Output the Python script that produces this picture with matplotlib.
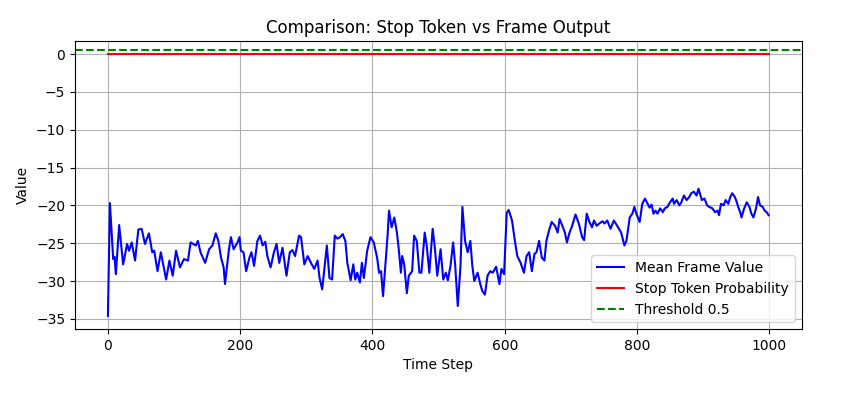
"""Comparison of the stop-token probability against the mean frame value per decoder step."""

import matplotlib
matplotlib.use("Agg")
import matplotlib.pyplot as plt
import numpy as np

N_STEPS = 1000
THRESHOLD = 0.5

# Mean frame value at these time steps.
frame_steps = [
    0, 3, 8, 10, 12, 17, 23, 29, 32, 36, 41, 46, 51, 56, 62, 67, 70, 75, 80, 88,
    93, 98, 103, 109, 115, 121, 125, 133, 136, 140, 147, 153, 158, 163, 167, 171,
    175, 177, 183, 186, 190, 196, 199, 201, 205, 209, 214, 217, 221, 226, 230,
    234, 238, 241, 246, 251, 255, 259, 264, 270, 275, 279, 283, 289, 292, 297,
    302, 307, 312, 317, 320, 324, 331, 335, 339, 343, 347, 351, 355, 359, 362,
    367, 371, 374, 377, 381, 384, 387, 392, 397, 402, 407, 410, 413, 416, 420,
    423, 425, 429, 433, 437, 440, 443, 445, 448, 452, 455, 460, 463, 467, 471,
    474, 479, 482, 486, 491, 494, 498, 503, 507, 511, 514, 518, 522, 525, 529,
    533, 536, 540, 544, 548, 551, 554, 559, 563, 566, 570, 574, 578, 582, 587,
    592, 595, 599, 603, 606, 611, 616, 619, 624, 629, 633, 637, 641, 645, 648,
    652, 656, 660, 663, 667, 671, 676, 680, 683, 688, 691, 694, 698, 702, 707,
    712, 717, 720, 724, 728, 732, 735, 739, 743, 748, 751, 755, 760, 765, 770,
    776, 781, 784, 789, 793, 796, 799, 804, 808, 812, 816, 819, 822, 825, 828,
    831, 835, 839, 842, 846, 850, 854, 856, 860, 864, 867, 871, 875, 879, 882,
    886, 890, 893, 895, 898, 902, 906, 909, 914, 918, 922, 924, 927, 931, 934,
    938, 941, 944, 948, 951, 953, 956, 958, 962, 966, 970, 973, 976, 980, 983,
    986, 990, 993, 996, 999,
]
frame_values = [
    -34.6, -19.7, -27.1, -26.8, -29.1, -22.6, -27.8, -25.1, -26.0, -24.9, -27.3,
    -23.2, -23.1, -25.1, -23.7, -26.2, -26.0, -28.7, -26.2, -29.8, -27.3, -29.3,
    -26.0, -28.2, -27.1, -27.3, -24.9, -25.3, -24.7, -26.2, -27.6, -25.8, -25.3,
    -23.7, -24.7, -26.9, -28.2, -30.4, -25.8, -24.2, -25.8, -24.9, -24.2, -26.0,
    -26.2, -28.7, -26.9, -26.2, -28.0, -24.7, -24.0, -25.3, -24.8, -26.7, -28.2,
    -26.2, -25.1, -27.6, -25.6, -29.3, -26.2, -25.9, -26.7, -24.0, -24.2, -27.8,
    -26.7, -27.6, -28.4, -27.3, -29.6, -31.1, -25.3, -29.6, -29.8, -24.0, -24.4,
    -24.2, -23.8, -24.7, -27.6, -29.9, -27.8, -29.8, -28.9, -30.2, -27.6, -29.6,
    -26.0, -24.2, -24.9, -26.9, -28.9, -28.7, -32.0, -27.3, -23.8, -20.7, -22.9,
    -21.6, -23.6, -26.0, -28.9, -26.7, -27.8, -31.6, -29.3, -28.7, -24.0, -24.7,
    -28.9, -28.9, -23.6, -25.3, -28.9, -23.1, -25.3, -29.3, -25.8, -29.8, -28.9,
    -29.9, -28.0, -24.9, -27.8, -33.3, -28.2, -20.2, -24.7, -26.2, -24.7, -28.0,
    -30.0, -28.9, -30.4, -31.3, -31.8, -29.3, -28.7, -28.9, -28.1, -30.4, -28.4,
    -29.1, -21.0, -20.6, -22.0, -25.1, -26.7, -27.6, -28.9, -26.7, -26.2, -28.7,
    -26.4, -26.2, -24.7, -26.9, -27.3, -24.7, -23.3, -22.2, -22.7, -23.6, -21.8,
    -22.9, -23.6, -24.9, -23.6, -22.7, -21.2, -22.4, -24.2, -24.6, -21.1, -22.2,
    -22.9, -22.0, -22.7, -22.4, -22.1, -22.4, -22.0, -23.1, -22.0, -22.7, -23.6,
    -25.3, -24.7, -21.6, -21.1, -20.2, -21.1, -22.2, -19.8, -19.1, -19.8, -20.3,
    -19.9, -21.1, -20.7, -21.1, -20.4, -20.9, -20.4, -20.2, -19.6, -19.1, -19.8,
    -19.3, -20.0, -19.6, -18.7, -19.3, -18.9, -18.4, -18.2, -18.7, -17.8, -18.4,
    -19.3, -19.1, -20.0, -20.2, -20.4, -20.9, -20.7, -21.3, -19.8, -20.0, -19.3,
    -19.8, -18.9, -18.4, -18.9, -19.6, -20.2, -20.9, -21.6, -20.4, -19.6, -20.2,
    -21.1, -21.6, -20.4, -18.9, -20.0, -20.2, -20.7, -20.9, -21.3,
]

# Stop token probability stays at zero for the whole run.
stop_steps = list(range(N_STEPS))
stop_probs = [0.0] * N_STEPS


def main():
    fig, ax = plt.subplots(figsize=(8.51, 3.98), dpi=100)
    fig.subplots_adjust(left=0.088, right=0.942, top=0.897, bottom=0.173)

    ax.plot(frame_steps, frame_values, color="blue", label="Mean Frame Value")
    ax.plot(stop_steps, stop_probs, color="red", label="Stop Token Probability")
    ax.axhline(THRESHOLD, color="green", linestyle="--", label="Threshold 0.5")

    ax.set_ylim(-36.36, 1.72)
    ax.set_title("Comparison: Stop Token vs Frame Output")
    ax.set_xlabel("Time Step")
    ax.set_ylabel("Value")
    ax.grid(True)
    ax.legend(loc="lower right")

    fig.savefig("out.png", dpi=100)


if __name__ == "__main__":
    main()
